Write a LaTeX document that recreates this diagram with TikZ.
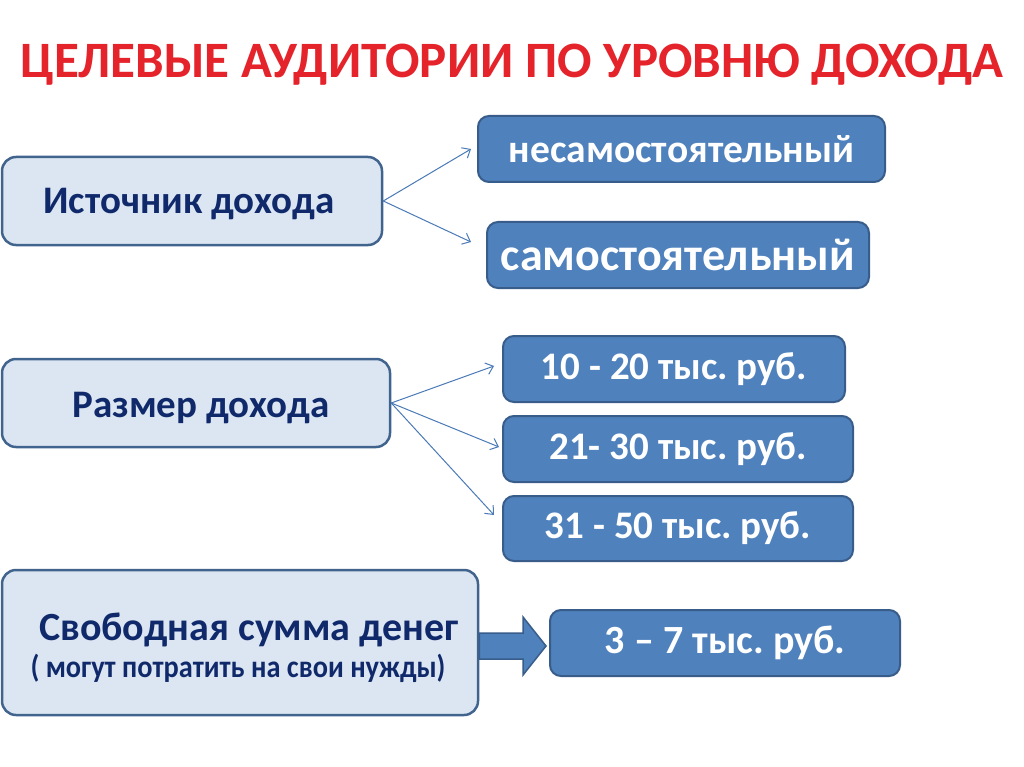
\documentclass[tikz,border=0pt]{standalone}
\usepackage{fontspec}
\setmainfont{Carlito}
\usetikzlibrary{arrows.meta}
\definecolor{titlered}{HTML}{E4232B}
\definecolor{navy}{HTML}{10296B}
\definecolor{lightfill}{HTML}{DCE6F2}
\definecolor{lightline}{HTML}{41648E}
\definecolor{darkfill}{HTML}{4F81BD}
\definecolor{darkline}{HTML}{385D8A}
\definecolor{conn}{HTML}{4A7AB8}
\frenchspacing
\tikzset{
  lightbox/.style={draw=lightline, fill=lightfill, line width=2.5pt, rounded corners=14pt, inner sep=0pt},
  lighttext/.style={anchor=base, text=navy, font=\bfseries, inner sep=0pt},
  darkbox/.style={draw=darkline, fill=darkfill, line width=2pt, rounded corners=11pt, text=white, font=\bfseries, inner sep=0pt},
  conn/.style={draw=conn, line width=1pt, -{Straight Barb[length=7pt,width=12pt]}},
}
\begin{document}
\begin{tikzpicture}[x=1pt,y=-1pt]
\useasboundingbox[fill=white] (0,0) rectangle (1024,767);
\node (title) at (512,65) {\fontsize{51}{53}\selectfont\bfseries\color{titlered}ЦЕЛЕВЫЕ АУДИТОРИИ ПО УРОВНЮ ДОХОДА};

\node (src) [lightbox, minimum width=380pt, minimum height=88pt] at (192,201) {};
\node (srcT) [lighttext] at (189,214) {\fontsize{39}{41}\selectfont Источник дохода};
\node (nes) [darkbox, minimum width=407pt, minimum height=66pt] at (681.5,149) {\fontsize{39.5}{41}\selectfont несамостоятельный};
\node (sam) [darkbox, minimum width=382pt, minimum height=66pt] at (678,255) {\fontsize{46}{48}\selectfont самостоятельный};

\node (size) [lightbox, minimum width=388pt, minimum height=88pt] at (196,403) {};
\node (sizeT) [lighttext] at (201,417) {\fontsize{39}{41}\selectfont Размер дохода};
\node (r1) [darkbox, minimum width=342pt, minimum height=66pt] at (674,369) {\fontsize{39}{41}\selectfont 10 - 20 тыс. руб.};
\node (r2) [darkbox, minimum width=350pt, minimum height=66pt] at (678,449) {\fontsize{39}{41}\selectfont 21- 30 тыс. руб.};
\node (r3) [darkbox, minimum width=350pt, minimum height=65pt] at (678,528.5) {\fontsize{39}{41}\selectfont 31 - 50 тыс. руб.};

\node (free) [lightbox, minimum width=476pt, minimum height=145pt] at (240,642.5) {};
\node (freet1) at (249,630) {\fontsize{40}{42}\selectfont\bfseries\color{navy}Свободная сумма денег};
\node (freet2) at (238,668) {\scalebox{0.9}[1]{\fontsize{31.5}{33}\selectfont\bfseries\color{navy}( могут потратить на свои нужды)}};
\node (r4) [darkbox, minimum width=350pt, minimum height=66pt] at (725,643) {\fontsize{40}{42}\selectfont 3 – 7 тыс. руб.};

\coordinate (t1) at (471,149);
\coordinate (t2) at (471,242);
\coordinate (t3) at (494,366);
\coordinate (t4) at (499,447);
\coordinate (t5) at (494,515);
\draw[conn] (src.east) -- (t1);
\draw[conn] (src.east) -- (t2);
\draw[conn] (size.east) -- (t3);
\draw[conn] (size.east) -- (t4);
\draw[conn] (size.east) -- (t5);

\draw[draw=darkline, fill=darkfill, line width=1.5pt, line join=miter]
  (free.east |- 0,633) -- (523,633) -- (523,617) -- (546,646) -- (523,675) -- (523,659) -- (free.east |- 0,659) -- cycle;
\end{tikzpicture}
\end{document}
